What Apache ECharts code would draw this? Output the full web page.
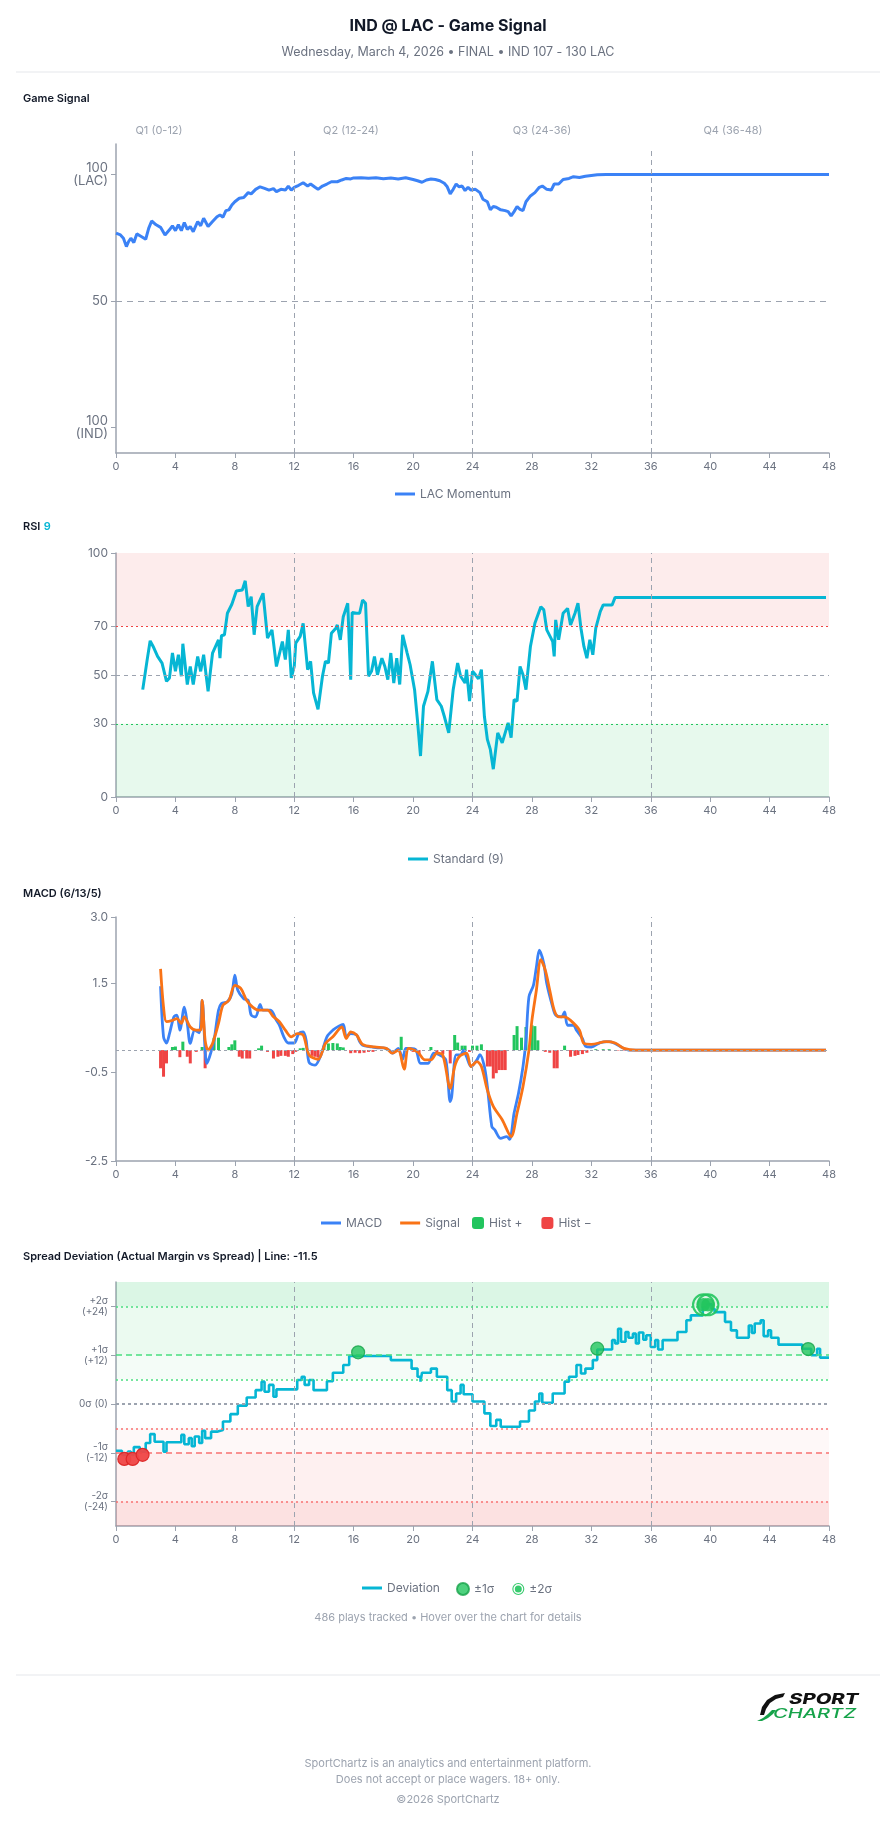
<!DOCTYPE html>
<html>
<head>
<meta charset="utf-8">
<title>IND @ LAC - Game Signal</title>
<script src="https://cdn.jsdelivr.net/npm/echarts@6/dist/echarts.min.js"></script>
<style>
  html, body { margin: 0; padding: 0; background: #fff; }
  #chart { width: 896px; height: 1824px; }
</style>
</head>
<body>
<div id="chart"></div>
<script>
// quarter labels and quarter boundaries (game minutes)
const quarterLabels = ['Q1 (0-12)', 'Q2 (12-24)', 'Q3 (24-36)', 'Q4 (36-48)'];
const quarterLines = [12, 24, 36];

// LAC momentum, [minute, value]  (0 = IND 100, 100 = LAC 100)
const momentum = [
  [0,76.8],[0.3,76.1],[0.5,74.8],[0.7,71.5],[0.85,73.5],[1,74.8],[1.2,73.1],[1.4,76.5],[1.7,75.5],[2,74.4],
  [2.2,78.7],[2.4,81.6],[2.7,80.1],[3,79.1],[3.3,76.1],[3.6,78.1],[3.8,79.7],[4,77.8],[4.2,80.1],[4.4,77.8],
  [4.6,81],[4.8,78.3],[5,79.4],[5.2,77.4],[5.5,81.4],[5.7,79.7],[5.9,82.7],[6.2,79.4],[6.5,81.4],[6.8,83.3],
  [7,84],[7.2,83.1],[7.4,85.7],[7.6,86],[7.8,87.9],[8,89.2],[8.3,90.6],[8.6,90.9],[8.9,92.8],[9.1,92.3],
  [9.4,94.1],[9.7,95.1],[10,94.5],[10.3,93.8],[10.6,94.4],[10.8,93.2],[11.1,94.1],[11.4,93.8],[11.6,95.4],[11.8,93.8],
  [12,94.9],[12.3,95.7],[12.6,96.7],[12.9,95.4],[13.1,96.2],[13.4,94.9],[13.6,94.1],[13.9,95.4],[14.2,96.2],[14.5,97.1],
  [14.9,97.1],[15.2,97.8],[15.5,98.4],[15.8,98.2],[16,98.6],[16.5,98.7],[17,98.5],[17.5,98.7],[18,98.3],[18.5,98.6],
  [19,98.2],[19.5,98.7],[20,98],[20.3,97.5],[20.6,96.9],[20.9,97.8],[21.2,98.2],[21.5,98],[21.8,97.5],[22.1,96.5],
  [22.3,95.1],[22.5,92.3],[22.7,94.1],[22.9,96.2],[23.1,95.1],[23.3,95.4],[23.5,93.6],[23.7,94.9],[23.9,93.8],[24.2,94.1],
  [24.5,92.8],[24.7,90.2],[25,89.2],[25.2,86],[25.4,87.3],[25.6,87],[25.9,86],[26.2,85.7],[26.4,85.3],[26.6,83.6],
  [26.8,85.3],[27,87.3],[27.2,86.2],[27.4,85.7],[27.6,89.2],[27.9,91.5],[28.2,92.8],[28.5,94.9],[28.7,95.4],[29,94.1],
  [29.3,93.8],[29.5,96.2],[29.8,96.2],[30.1,98],[30.5,98.4],[30.8,99.1],[31.2,98.8],[31.6,99.3],[32,99.6],[32.4,99.9],
  [33,100],[48,100]
];

// RSI (9), [minute, value]
const rsi = [
  [1.8,44],[1.9,43.3],[2.1,56.3],[2.3,64],[2.5,61.7],[2.8,57.6],[3.1,54.9],[3.4,47.4],[3.6,48.8],[3.8,59],
  [4,51.5],[4.2,58.3],[4.4,49.5],[4.5,62.8],[4.8,46.1],[5,53.5],[5.2,46.1],[5.5,57.6],[5.7,51.5],[5.9,58.3],
  [6.2,43.3],[6.5,59],[6.9,64.4],[7,56.9],[7.1,66.1],[7.3,66.5],[7.5,75.3],[7.8,79],[8.1,84.4],[8.5,84.8],
  [8.7,88.6],[8.9,78],[9.1,82.1],[9.3,66.5],[9.5,78],[9.9,83.5],[10.2,65.1],[10.5,68.5],[10.8,53.5],[11.2,63.7],
  [11.4,56.3],[11.6,68.5],[11.8,48.8],[12,53.5],[12.1,63.1],[12.4,65.8],[12.6,71.2],[12.9,52.2],[13.1,55.6],[13.3,42.7],
  [13.6,35.9],[13.9,49.5],[14.1,55.6],[14.3,54.9],[14.5,67.1],[14.8,69.2],[14.9,70.5],[15.1,64.4],[15.3,73.9],[15.6,79.4],
  [15.8,48.1],[15.9,75.6],[16.2,75.3],[16.4,75.3],[16.6,80.7],[16.8,79.4],[17,49.5],[17.2,51.5],[17.4,57.6],[17.6,50.1],
  [17.9,56.9],[18.1,53.5],[18.3,48.1],[18.5,59],[18.7,46.7],[18.9,56.9],[19.1,46.1],[19.3,66.5],[19.6,59],[19.8,54.2],
  [20.1,44],[20.3,31.1],[20.5,16.8],[20.7,37.2],[21,43.3],[21.3,55.6],[21.6,39.9],[21.9,37.2],[22.1,33.1],[22.4,26.3],
  [22.7,44],[23,54.9],[23.2,49.5],[23.5,46.7],[23.6,52.2],[23.8,39.3],[24,51.5],[24.2,50.1],[24.4,48.4],[24.6,52.2],
  [24.8,33.1],[25,23.6],[25.2,19.5],[25.4,11.4],[25.7,26.3],[26,22.2],[26.4,30.4],[26.6,24.3],[26.8,39.9],[27,39.3],
  [27.2,53.5],[27.4,50.1],[27.6,44],[27.9,61.7],[28.2,71.2],[28.6,78],[28.8,76.7],[29,68.5],[29.4,63.7],[29.5,57.6],
  [29.6,72.6],[29.8,64.4],[30.1,75.3],[30.4,77.3],[30.6,70.5],[30.9,75.3],[31.1,79.4],[31.3,69.2],[31.5,61.7],[31.7,56.9],
  [31.9,64.4],[32.1,58.3],[32.3,69.2],[32.6,76],[32.8,78.7],[33.4,78.7],[33.6,81.8],[47.8,81.8]
];

// MACD (6/13/5)
const macdLine = [
  [3,1.44],[3.2,0.3],[3.4,0.16],[3.6,0.37],[3.9,0.75],[4.1,0.79],[4.3,0.45],[4.6,0.97],[4.8,0.6],[5,0.15],
  [5.3,0.45],[5.6,0.39],[5.8,1.12],[6.1,-0.3],[6.3,-0.15],[6.6,0.22],[6.9,0.9],[7.1,1.05],[7.5,1.09],[7.8,1.27],
  [8,1.69],[8.2,1.35],[8.6,1.16],[8.9,1.12],[9.1,0.79],[9.4,0.75],[9.7,1.03],[9.9,0.9],[10.4,0.9],[10.8,0.67],
  [11,0.56],[11.3,0.3],[11.6,0.16],[12,0.16],[12.3,0.37],[12.6,0.41],[12.8,0.22],[13,-0.28],[13.4,-0.34],[13.8,-0.11],
  [14.2,0.3],[14.6,0.45],[15,0.54],[15.3,0.58],[15.5,0.3],[15.8,0.37],[16.2,0.34],[16.4,0.19],[16.6,0.11],[17.2,0.07],
  [17.6,0.05],[18,0.05],[18.4,0],[18.6,-0.07],[19,0.04],[19.3,-0.21],[19.5,0.04],[19.8,0.04],[20.2,0],[20.5,-0.3],
  [21,-0.3],[21.4,-0.07],[21.8,-0.11],[22.2,-0.22],[22.5,-1.16],[22.6,-1.05],[22.9,-0.11],[23.2,-0.11],[23.4,0],[23.6,-0.15],
  [23.9,-0.37],[24.3,-0.22],[24.5,-0.1],[24.8,-0.37],[25,-0.82],[25.3,-1.72],[25.5,-1.8],[25.9,-1.99],[26.3,-1.95],[26.5,-2.01],
  [26.8,-1.42],[27.1,-0.97],[27.4,-0.37],[27.6,0.22],[27.8,1.2],[28.1,1.46],[28.3,1.87],[28.5,2.25],[28.8,1.95],[29,1.5],
  [29.4,0.97],[29.6,0.79],[30,0.75],[30.2,0.86],[30.4,0.56],[30.8,0.56],[31,0.45],[31.4,0.26],[31.6,0.09],[32,0.07],
  [32.6,0.17],[33.2,0.19],[33.6,0.15],[34,0.07],[34.5,0],[47.8,0]
];
const macdSignal = [
  [3,1.83],[3.2,0.97],[3.4,0.64],[3.8,0.67],[4.1,0.71],[4.4,0.6],[4.6,0.75],[5,0.52],[5.4,0.45],[5.7,0.45],
  [5.8,1.12],[6,0.22],[6.2,0],[6.5,0.15],[6.9,0.6],[7.2,1.01],[7.6,1.12],[8,1.46],[8.4,1.39],[8.8,1.12],
  [9.2,0.97],[9.6,0.9],[10.2,0.9],[10.6,0.75],[11,0.64],[11.4,0.45],[11.8,0.3],[12.2,0.37],[12.6,0.34],[13,-0.11],
  [13.6,-0.21],[14.1,0.15],[14.6,0.3],[15.2,0.52],[15.5,0.26],[15.8,0.41],[16.2,0.34],[16.6,0.13],[17.4,0.07],[18.2,0.04],
  [18.6,-0.07],[19,0],[19.4,-0.43],[19.7,0.04],[20.3,-0.04],[20.8,-0.22],[21.2,-0.22],[21.6,-0.07],[22,-0.11],[22.5,-0.86],
  [22.8,-0.37],[23.1,-0.15],[23.6,-0.07],[23.9,-0.37],[24.3,-0.26],[24.6,-0.37],[25,-0.9],[25.4,-1.27],[26,-1.57],[26.6,-1.95],
  [27,-1.42],[27.4,-0.82],[27.8,0],[28,0.67],[28.3,1.35],[28.6,2.04],[28.9,1.8],[29.2,1.35],[29.5,0.9],[29.8,0.75],
  [30.2,0.75],[30.6,0.67],[31.2,0.45],[31.5,0.15],[32,0.13],[33,0.19],[33.6,0.16],[34.2,0.04],[35,0],[47.8,0]
];
const macdHist = [
  [3,-0.41],[3.2,-0.6],[3.4,-0.3],[3.8,0.07],[4,0.08],[4.3,-0.16],[4.5,0.19],[4.8,-0.15],[5,-0.3],[5.4,-0.04],
  [5.8,0.07],[6,-0.41],[6.4,0.07],[6.6,0.28],[6.9,0.28],[7.6,0.07],[7.8,0.13],[8,0.22],[8.3,-0.15],[8.5,-0.19],
  [8.8,-0.19],[9,-0.19],[9.6,0.04],[9.8,0.1],[10.2,-0.04],[10.6,-0.19],[10.9,-0.15],[11.1,-0.13],[11.4,-0.13],[11.6,-0.15],
  [11.9,-0.09],[12.1,-0.04],[12.4,0.04],[12.6,0.05],[13.2,-0.13],[13.4,-0.15],[13.6,-0.17],[14,0.1],[14.3,0.15],[14.6,0.16],
  [14.9,0.15],[15.1,0.07],[15.3,0.06],[15.8,-0.07],[16.1,-0.06],[16.4,-0.07],[16.7,-0.06],[17,-0.04],[17.3,-0.04],[18.2,0.04],
  [19.2,0.3],[20,-0.04],[20.4,-0.09],[21.2,0.07],[21.6,-0.07],[22,-0.09],[22.5,-0.3],[22.8,0.34],[23,0.17],[23.3,0.1],
  [23.5,0.1],[23.8,-0.04],[24,0.1],[24.3,0.1],[24.6,0.13],[25,-0.37],[25.2,-0.37],[25.4,-0.64],[25.6,-0.52],[25.8,-0.45],
  [26,-0.45],[26.2,-0.45],[26.8,0.34],[27,0.54],[27.3,0.28],[27.6,0.52],[28,0.56],[28.2,0.54],[28.4,0.22],[28.9,-0.04],
  [29.2,-0.06],[29.5,-0.41],[29.7,-0.41],[30.2,0.1],[30.6,-0.15],[30.9,-0.13],[31.1,-0.11],[31.4,-0.09],[31.7,-0.06],[32.3,0.02],
  [32.8,0.02],[33.2,0.02],[33.8,-0.01],[34.2,-0.01]
];

// spread deviation (actual margin vs spread), step changes [minute, points]
const deviation = [
  [0,-11.5],[0.4,-12.5],[0.8,-11.7],[1,-12.5],[1.2,-10.6],[1.6,-11.7],[2,-9.6],[2.3,-7.4],[2.6,-9.3],[3.2,-11.7],
  [3.4,-9.4],[4.4,-7.6],[4.6,-9.9],[4.9,-8.4],[5.1,-10.4],[5.3,-8],[5.6,-9.6],[5.8,-6.6],[6,-8.4],[6.4,-6.8],
  [6.8,-6.4],[7.2,-4.3],[7.7,-2.5],[8.2,-0.4],[8.8,1.6],[9.4,3.4],[9.8,5.5],[10,3],[10.3,4.7],[10.6,1.8],
  [10.8,3.6],[12.2,5.9],[12.5,6.7],[12.7,4.7],[13,5.9],[13.3,3.4],[14.2,5.6],[14.6,7.7],[15.3,9.6],[15.7,11.8],
  [18.5,10.8],[19.9,8.7],[20.3,6.7],[20.5,5.5],[20.6,7.7],[21.2,8.7],[21.6,6.7],[22.3,3.4],[22.6,0.6],[22.9,2.6],
  [23.2,4.7],[23.4,2.4],[24,0.6],[24.8,-2.3],[25.2,-5.4],[25.6,-3.9],[25.9,-5.6],[27.2,-4.3],[27.8,-1.6],[28.2,0.6],
  [28.5,2.6],[28.7,0.3],[29.4,2.6],[30.2,5.5],[30.5,6.7],[31,9.6],[31.3,7.5],[31.6,8.7],[32.1,10.8],[32.4,13.4],
  [33.4,15.7],[33.6,14.9],[33.8,18.5],[34,15.3],[34.3,17.7],[34.5,16.3],[34.8,17.3],[35,14.9],[35.2,17.6],[35.5,15.8],
  [35.7,16.9],[36,14],[36.3,15.7],[36.5,13.4],[36.8,15.7],[37.8,17.7],[38.4,20.6],[38.7,21.8],[39.5,23.8],[39.8,24.5],
  [40.1,23.4],[40.3,22.6],[41,20.2],[41.4,18.1],[41.8,16.3],[42.6,19.3],[42.8,17.5],[43,19.8],[43.4,20.6],[43.6,16.7],
  [43.9,18.1],[44.1,16.3],[44.6,14.6],[46.2,13.6],[46.8,12],[47.2,13.6],[47.4,11.4],[48,11.4]
];
// sigma crossings [minute, points]
const sigma1Low = [[0.56,-13.5],[1.12,-13.5],[1.79,-12.5]];
const sigma1High = [[16.3,12.7],[32.4,13.6],[46.6,13.5]];
const sigma2Points = [[39.55,24.4],[39.85,24.4]];

// axis tick labels
const gameTicks = [0, 50, 100];
const gameTickLabels = ['100\n(IND)', '50', '100\n(LAC)'];
const rsiTicks = [0, 30, 50, 70, 100];
const macdTicks = [-2.5, -0.5, 1.5, 3.0];
const spreadTicks = [-24, -12, 0, 12, 24];
const spreadTickLabels = ['-2σ\n(-24)', '-1σ\n(-12)', '0σ (0)', '+1σ\n(+12)', '+2σ\n(+24)'];

const FONT = 'Inter, "Noto Sans", sans-serif';
const AXIS_GRAY = '#9ca3af';
const LABEL_GRAY = '#6b7280';
const ringPath = 'path://M12 0A12 12 0 1 1 12 24A12 12 0 1 1 12 0ZM12 2.2A9.8 9.8 0 1 0 12 21.8A9.8 9.8 0 1 0 12 2.2ZM12 5A7 7 0 1 1 12 19A7 7 0 1 1 12 5Z';

function xAxisFor(i) {
  return {
    type: 'value', gridIndex: i, min: 0, max: 48, interval: 4,
    axisLine: { show: true, onZero: false, lineStyle: { color: AXIS_GRAY, width: 1.5 } },
    axisTick: { show: true, length: 5, lineStyle: { color: AXIS_GRAY } },
    axisLabel: { color: LABEL_GRAY, fontSize: 11, margin: 8 },
    splitLine: { show: false }
  };
}
function yAxisFor(i, min, max, ticks, fmt, size, lh) {
  return {
    type: 'value', gridIndex: i, min: min, max: max,
    axisLine: { show: true, onZero: false, lineStyle: { color: AXIS_GRAY, width: 1.5 } },
    axisTick: { show: true, length: 5, customValues: ticks, lineStyle: { color: AXIS_GRAY } },
    axisLabel: { customValues: ticks, formatter: fmt, color: LABEL_GRAY, fontSize: size, lineHeight: lh, margin: 8 },
    splitLine: { show: false }
  };
}
function hLine(y, color, type, width) {
  return { yAxis: y, lineStyle: { color: color, type: type, width: width || 1 } };
}
function quarterMarks() {
  return quarterLines.map(function (q) {
    return { xAxis: q, lineStyle: { color: AXIS_GRAY, type: [5, 4], width: 1 } };
  });
}
function lineLegend(left, top, names, gap) {
  return {
    left: left, top: top, itemWidth: 20, itemHeight: 3, itemGap: gap || 18,
    data: names.map(function (n) { return { name: n, icon: 'rect' }; }),
    textStyle: { color: LABEL_GRAY, fontSize: 12 }
  };
}
const markBase = { symbol: ['none', 'none'], silent: true, label: { show: false }, animation: false };

const histPos = macdHist.filter(function (d) { return d[1] >= 0; });
const histNeg = macdHist.filter(function (d) { return d[1] < 0; });

function txt(x, y, text, font, fill, align) {
  return {
    type: 'text', x: x, y: y, silent: true,
    style: { text: text, font: font, fill: fill, align: align || 'left', textAlign: align || 'left', verticalAlign: 'middle', textVerticalAlign: 'middle' }
  };
}

const chart = echarts.init(document.getElementById('chart'));
const option = {
  animation: false,
  backgroundColor: '#fff',
  textStyle: { fontFamily: FONT },
  grid: [
    { left: 116, right: 67, top: 144, height: 309 },
    { left: 116, right: 67, top: 553, height: 244 },
    { left: 116, right: 67, top: 917, height: 244 },
    { left: 116, right: 67, top: 1282, height: 244 }
  ],
  xAxis: [xAxisFor(0), xAxisFor(1), xAxisFor(2), xAxisFor(3)],
  yAxis: [
    yAxisFor(0, -10, 112, gameTicks, function (v) { return gameTickLabels[gameTicks.indexOf(v)] || ''; }, 13, 13),
    yAxisFor(1, 0, 100, rsiTicks, function (v) { return String(v); }, 12, 12),
    yAxisFor(2, -2.5, 3, macdTicks, function (v) { return v.toFixed(1); }, 12, 12),
    yAxisFor(3, -30, 30, spreadTicks, function (v) { return spreadTickLabels[spreadTicks.indexOf(v)] || ''; }, 10, 11)
  ],
  legend: [
    lineLegend(390, 483, ['LAC Momentum']),
    lineLegend(403, 848, ['Standard (9)']),
    lineLegend(316, 1212, ['MACD', 'Signal']),
    { left: 467, top: 1212, itemWidth: 12, itemHeight: 12, itemGap: 19, data: [{ name: 'Hist +', icon: 'roundRect' }, { name: 'Hist −', icon: 'roundRect' }], textStyle: { color: LABEL_GRAY, fontSize: 12 } },
    lineLegend(357, 1577, ['Deviation']),
    { left: 451, top: 1577, itemWidth: 12, itemHeight: 12, itemGap: 18, data: [{ name: '±1σ', icon: 'circle' }, { name: '±2σ', icon: ringPath }], textStyle: { color: LABEL_GRAY, fontSize: 12 } }
  ],
  series: [
    {
      name: 'LAC Momentum', type: 'line', xAxisIndex: 0, yAxisIndex: 0, data: momentum,
      symbol: 'none', lineStyle: { color: '#3b82f6', width: 3 }, itemStyle: { color: '#3b82f6' }, z: 3,
      markLine: Object.assign({}, markBase, {
        data: quarterLines.map(function (q) {
          return [{ coord: [q, -10], lineStyle: { color: AXIS_GRAY, type: [5, 4], width: 1 } }, { coord: [q, 110] }];
        }).concat([hLine(50, AXIS_GRAY, [6, 5], 1)])
      })
    },
    {
      name: 'Standard (9)', type: 'line', xAxisIndex: 1, yAxisIndex: 1, data: rsi,
      symbol: 'none', lineStyle: { color: '#06b6d4', width: 3 }, itemStyle: { color: '#06b6d4' }, z: 3,
      markArea: {
        silent: true,
        data: [
          [{ yAxis: 70, itemStyle: { color: 'rgba(239,68,68,0.1)' } }, { yAxis: 100 }],
          [{ yAxis: 0, itemStyle: { color: 'rgba(34,197,94,0.11)' } }, { yAxis: 30 }]
        ]
      },
      markLine: Object.assign({}, markBase, {
        data: quarterMarks().concat([
          hLine(70, '#ef4444', [2, 3], 1.2),
          hLine(50, AXIS_GRAY, [4, 4], 1),
          hLine(30, '#22c55e', [2, 3], 1.2)
        ])
      })
    },
    {
      name: 'Hist +', type: 'bar', xAxisIndex: 2, yAxisIndex: 2, data: histPos,
      barWidth: 3, barGap: '-100%', itemStyle: { color: '#22c55e' }, z: 1
    },
    {
      name: 'Hist −', type: 'bar', xAxisIndex: 2, yAxisIndex: 2, data: histNeg,
      barWidth: 3, barGap: '-100%', itemStyle: { color: '#ef4444' }, z: 1,
      markLine: Object.assign({}, markBase, {
        data: quarterMarks().concat([hLine(0, AXIS_GRAY, [3, 3], 1)])
      })
    },
    {
      name: 'MACD', type: 'line', xAxisIndex: 2, yAxisIndex: 2, data: macdLine,
      symbol: 'none', smooth: 0.3, lineStyle: { color: '#3b82f6', width: 2.8 }, itemStyle: { color: '#3b82f6' }, z: 3
    },
    {
      name: 'Signal', type: 'line', xAxisIndex: 2, yAxisIndex: 2, data: macdSignal,
      symbol: 'none', smooth: 0.3, lineStyle: { color: '#f97316', width: 2.8 }, itemStyle: { color: '#f97316' }, z: 4
    },
    {
      name: 'Deviation', type: 'line', xAxisIndex: 3, yAxisIndex: 3, data: deviation, step: 'end',
      symbol: 'none', lineStyle: { color: '#06b6d4', width: 2.6 }, itemStyle: { color: '#06b6d4' }, z: 3,
      markArea: {
        silent: true,
        data: [
          [{ yAxis: 24, itemStyle: { color: 'rgba(34,197,94,0.16)' } }, { yAxis: 30 }],
          [{ yAxis: 12, itemStyle: { color: 'rgba(34,197,94,0.09)' } }, { yAxis: 24 }],
          [{ yAxis: 6, itemStyle: { color: 'rgba(34,197,94,0.05)' } }, { yAxis: 12 }],
          [{ yAxis: -12, itemStyle: { color: 'rgba(239,68,68,0.04)' } }, { yAxis: -6 }],
          [{ yAxis: -24, itemStyle: { color: 'rgba(239,68,68,0.08)' } }, { yAxis: -12 }],
          [{ yAxis: -30, itemStyle: { color: 'rgba(239,68,68,0.16)' } }, { yAxis: -24 }]
        ]
      },
      markLine: Object.assign({}, markBase, {
        data: quarterMarks().concat([
          hLine(24, '#4ade80', [2, 3], 1.5),
          hLine(12, '#4ade80', [6, 4], 1.5),
          hLine(6, '#4ade80', [2, 3], 1.5),
          hLine(0, '#9ca3af', [3, 3], 2),
          hLine(-6, '#f87171', [2, 3], 1.5),
          hLine(-12, '#f87171', [6, 4], 1.5),
          hLine(-24, '#f87171', [2, 3], 1.5)
        ])
      })
    },
    {
      name: '±1σ', type: 'scatter', xAxisIndex: 3, yAxisIndex: 3, symbol: 'circle', symbolSize: 13, z: 5,
      itemStyle: { color: '#22c55e', borderColor: '#16a34a', borderWidth: 1.2 },
      data: sigma1Low.map(function (p) {
        return { value: p, itemStyle: { color: '#ef4444', borderColor: '#dc2626', opacity: 0.95 } };
      }).concat(sigma1High)
    },
    {
      name: '±2σ', type: 'scatter', xAxisIndex: 3, yAxisIndex: 3, symbol: ringPath, symbolSize: 23, z: 6,
      itemStyle: { color: '#22c55e', opacity: 0.9 },
      data: sigma2Points
    }
  ],
  graphic: [
    txt(448, 26, 'IND @ LAC - Game Signal', 'bold 16px ' + FONT, '#111827', 'center'),
    txt(448, 52, 'Wednesday, March 4, 2026 • FINAL • IND 107 - 130 LAC', '12.5px ' + FONT, LABEL_GRAY, 'center'),
    { type: 'line', silent: true, shape: { x1: 16, y1: 72, x2: 880, y2: 72 }, style: { stroke: '#e5e7eb', lineWidth: 1 } },
    txt(23, 99, 'Game Signal', '600 11px ' + FONT, '#111827'),
    txt(159, 131, quarterLabels[0], '11px ' + FONT, AXIS_GRAY, 'center'),
    txt(351, 131, quarterLabels[1], '11px ' + FONT, AXIS_GRAY, 'center'),
    txt(542, 131, quarterLabels[2], '11px ' + FONT, AXIS_GRAY, 'center'),
    txt(733, 131, quarterLabels[3], '11px ' + FONT, AXIS_GRAY, 'center'),
    {
      type: 'text', x: 23, y: 527, silent: true,
      style: {
        text: '{a|RSI} {b|9}', verticalAlign: 'middle', textVerticalAlign: 'middle',
        rich: {
          a: { font: '600 11px ' + FONT, fill: '#111827', color: '#111827' },
          b: { font: '600 11px ' + FONT, fill: '#06b6d4', color: '#06b6d4' }
        }
      }
    },
    txt(23, 894, 'MACD (6/13/5)', '600 11px ' + FONT, '#111827'),
    txt(23, 1257, 'Spread Deviation (Actual Margin vs Spread) | Line: -11.5', '600 11px ' + FONT, '#111827'),
    txt(448, 1618, '486 plays tracked • Hover over the chart for details', '11px ' + FONT, AXIS_GRAY, 'center'),
    { type: 'line', silent: true, shape: { x1: 16, y1: 1675, x2: 880, y2: 1675 }, style: { stroke: '#e5e7eb', lineWidth: 1 } },
    // logo
    { type: 'polygon', silent: true, shape: { points: [[760,1715],[762,1707],[767,1700],[775,1695],[785,1693],[783,1697],[776,1699],[770,1703],[766,1709],[764,1715]] }, style: { fill: '#111' } },
    { type: 'polygon', silent: true, shape: { points: [[757,1721],[762,1721],[768,1718],[773,1714],[776,1710],[772,1710],[768,1714],[763,1718]] }, style: { fill: '#16a34a' } },
    { type: 'text', x: 789, y: 1700, scaleX: 1.45, silent: true, style: { text: 'SPORT', font: 'italic 800 14px ' + FONT, fill: '#111', align: 'left', textAlign: 'left', verticalAlign: 'middle', textVerticalAlign: 'middle' } },
    { type: 'text', x: 773, y: 1714, scaleX: 1.55, silent: true, style: { text: 'CHARTZ', font: 'italic 500 13px ' + FONT, fill: '#16a34a', align: 'left', textAlign: 'left', verticalAlign: 'middle', textVerticalAlign: 'middle' } },
    txt(448, 1764, 'SportChartz is an analytics and entertainment platform.', '11px ' + FONT, AXIS_GRAY, 'center'),
    txt(448, 1780, 'Does not accept or place wagers. 18+ only.', '11px ' + FONT, AXIS_GRAY, 'center'),
    txt(448, 1800, '©2026 SportChartz', '11px ' + FONT, AXIS_GRAY, 'center')
  ]
};
chart.setOption(option);
</script>
</body>
</html>
